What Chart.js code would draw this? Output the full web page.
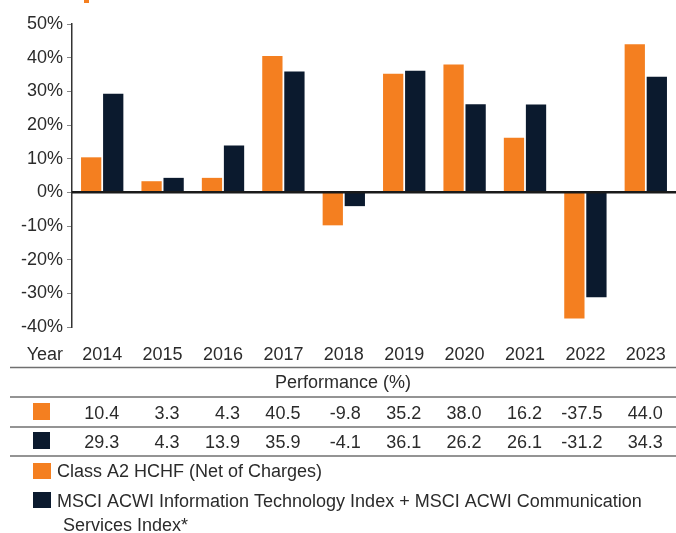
<!DOCTYPE html>
<html>
<head>
<meta charset="utf-8">
<script src="https://cdn.jsdelivr.net/npm/chart.js@4.4.1/dist/chart.umd.min.js"></script>
<style>
  html, body { margin: 0; padding: 0; background: #fff; }
  #wrap { position: relative; width: 676px; height: 533px; }
  #titleMark { position: absolute; left: 84px; top: 0; width: 5px; height: 3px; background: #f47f20; }
</style>
</head>
<body>
<div id="wrap"><canvas id="perfChart"></canvas><div id="titleMark"></div></div>
<script>
const years = ['2014', '2015', '2016', '2017', '2018', '2019', '2020', '2021', '2022', '2023'];
const fundReturns = [10.4, 3.3, 4.3, 40.5, -9.8, 35.2, 38.0, 16.2, -37.5, 44.0];
const indexReturns = [29.3, 4.3, 13.9, 35.9, -4.1, 36.1, 26.2, 26.1, -31.2, 34.3];
const fundLabel = 'Class A2 HCHF (Net of Charges)';
const indexLabelLines = ['MSCI ACWI Information Technology Index + MSCI ACWI Communication', 'Services Index*'];
const tableTitle = 'Performance (%)';
const firstColLabel = 'Year';

const ORANGE = '#f47f20';
const NAVY = '#0b1a2e';
const INK = '#2b2b2b';
const RULE = '#707070';
const FONT = '"Liberation Sans", Arial, sans-serif';

// draws zero line, year row, data table and legend under the plot
const tablePlugin = {
  id: 'perfTable',
  afterDraw: chart => {
    const ctx = chart.ctx;
    const xs = chart.scales.x;
    const ys = chart.scales.y;
    const area = chart.chartArea;
    ctx.save();

    // zero line
    const y0 = ys.getPixelForValue(0);
    ctx.strokeStyle = '#1a1a1a';
    ctx.lineWidth = 2.5;
    ctx.beginPath();
    ctx.moveTo(area.left, y0);
    ctx.lineTo(area.right, y0);
    ctx.stroke();

    ctx.font = '18px ' + FONT;
    ctx.fillStyle = INK;
    ctx.textBaseline = 'alphabetic';

    // year row
    ctx.textAlign = 'right';
    ctx.fillText(firstColLabel, 63, 360);
    ctx.textAlign = 'center';
    years.forEach((yr, i) => ctx.fillText(yr, xs.getPixelForValue(i), 360));

    // horizontal rules
    ctx.strokeStyle = RULE;
    ctx.lineWidth = 1.5;
    [367.5, 397, 427, 456].forEach(y => {
      ctx.beginPath();
      ctx.moveTo(10, y);
      ctx.lineTo(676, y);
      ctx.stroke();
    });

    ctx.fillStyle = INK;
    ctx.fillText(tableTitle, 343, 388);

    // value rows
    const rows = [[fundReturns, ORANGE, 412], [indexReturns, NAVY, 441]];
    rows.forEach(([vals, color, cy]) => {
      ctx.fillStyle = color;
      ctx.fillRect(33, cy - 9, 17, 17);
      ctx.fillStyle = INK;
      ctx.textAlign = 'right';
      vals.forEach((v, i) => ctx.fillText(v.toFixed(1), xs.getPixelForValue(i) + 17, cy + 7));
    });

    // legend
    ctx.textAlign = 'left';
    ctx.fillStyle = ORANGE;
    ctx.fillRect(33, 463, 18, 16);
    ctx.fillStyle = NAVY;
    ctx.fillRect(33, 492, 18, 16);
    ctx.fillStyle = INK;
    ctx.fillText(fundLabel, 57, 477);
    ctx.fillText(indexLabelLines[0], 57, 507);
    ctx.fillText(indexLabelLines[1], 63, 531);

    ctx.restore();
  }
};

new Chart(document.getElementById('perfChart'), {
  type: 'bar',
  data: {
    labels: years,
    datasets: [
      { label: fundLabel, data: fundReturns, backgroundColor: ORANGE },
      { label: indexLabelLines.join(' '), data: indexReturns, backgroundColor: NAVY },
    ]
  },
  options: {
    responsive: true,
    maintainAspectRatio: false,
    animation: false,
    layout: { padding: { left: 0, right: 0, top: 24, bottom: 206 } },
    datasets: { bar: { categoryPercentage: 0.73, barPercentage: 0.92 } },
    plugins: { legend: { display: false }, tooltip: { enabled: false } },
    scales: {
      x: { display: false },
      y: {
        min: -40,
        max: 50,
        afterFit: s => { s.width = 72; },
        border: { display: true, color: '#333', width: 1.5 },
        grid: { drawOnChartArea: false, drawTicks: true, tickLength: 5, color: '#888' },
        ticks: {
          stepSize: 10,
          padding: 4,
          color: INK,
          font: { family: FONT, size: 18 },
          callback: v => v + '%'
        }
      }
    }
  },
  plugins: [tablePlugin]
});
</script>
</body>
</html>
